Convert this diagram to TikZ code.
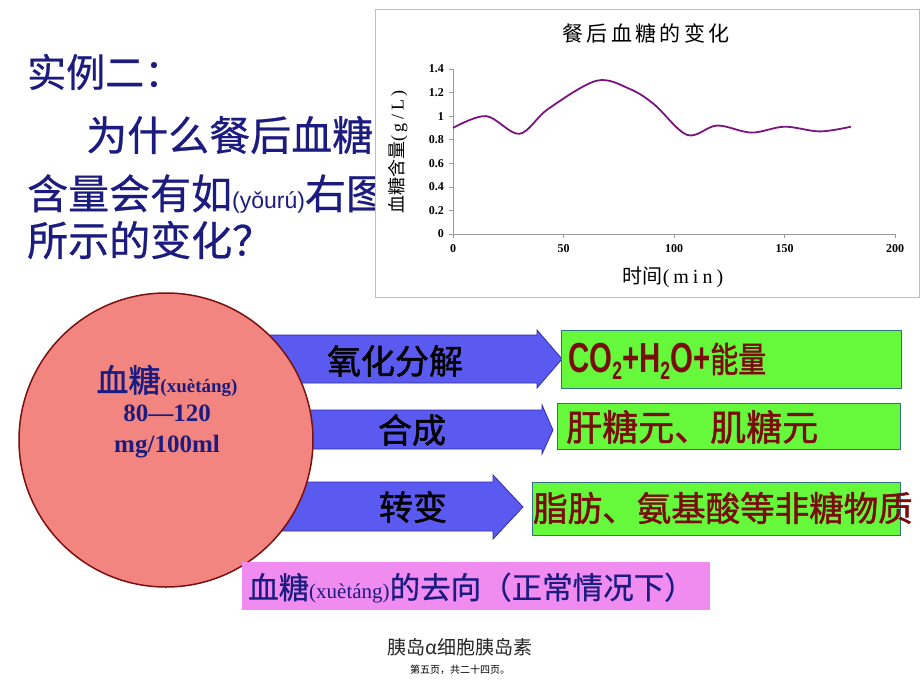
\documentclass[tikz,border=0pt]{standalone}
\usepackage{fontspec}
\setmainfont{Liberation Serif}
\newfontfamily\cjk{Noto Sans CJK SC}
\newfontfamily\cjkm[FakeBold=0.6]{Noto Sans CJK SC}
\newfontfamily\cjkb[FakeBold=1.4]{Noto Sans CJK SC}
\newfontfamily\cjkn[FakeStretch=0.8,FakeBold=1.4]{Noto Sans CJK SC}
\newfontfamily\cjkspaced[LetterSpace=16]{Noto Sans CJK SC}
\newfontfamily\tnr{Liberation Serif}
\newfontfamily\tnrspaced[LetterSpace=20]{Liberation Serif}
\newfontfamily\arial{Liberation Sans}
\newfontfamily\narrowf[FakeStretch=0.7]{Liberation Sans}
\newcommand\setfs[1]{\fontsize{#1}{#1}\selectfont}
\definecolor{titlenavy}{HTML}{1C1C80}
\definecolor{arrowblue}{HTML}{5A5AF0}
\definecolor{arrowline}{HTML}{2E2EA8}
\definecolor{circfill}{HTML}{F2857F}
\definecolor{circline}{HTML}{7A1010}
\definecolor{boxgreen}{HTML}{66F83A}
\definecolor{boxline}{HTML}{35708A}
\definecolor{labelpink}{HTML}{F08CF0}
\definecolor{darkredtext}{HTML}{7A0C0C}
\definecolor{chartgray}{HTML}{BEBEBE}
\definecolor{axisgray}{HTML}{9A9A9A}
\definecolor{curvepurple}{HTML}{7A1480}
\begin{document}
\begin{tikzpicture}[x=1pt,y=-1pt,
  titletext/.style={anchor=west,inner sep=0pt,text=titlenavy,font=\cjkm\setfs{41}},
  arrowshape/.style={fill=arrowblue,draw=arrowline,line width=0.8pt},
  arrowtext/.style={inner sep=0pt,text=black,font=\cjkb\setfs{34}},
  greenbox/.style={anchor=north west,fill=boxgreen,draw=boxline,line width=1pt,inner sep=0pt},
  greentext/.style={anchor=west,inner sep=0pt,text=darkredtext},
  ticklabel/.style={inner sep=0pt,font=\tnr\bfseries\setfs{12},text=black},
  circtext/.style={anchor=base,inner sep=0pt,text=titlenavy}]
\useasboundingbox[fill=white] (0,0) rectangle (920,690);

% question text
\node[titletext,font=\cjkm\setfs{39}] (q1) at (27,72) {实例二：};
\node[titletext] (q2) at (86,135) {为什么餐后血糖};
\node[titletext] (q3) at (27,194) {含量会有如{\arial\setfs{23}(yǒurú)}右图};
\node[titletext] (q4) at (27,240) {所示的变化？};

% chart panel
\draw[draw=chartgray,fill=white,line width=1pt] (375,10) rectangle (919,297);
\node[inner sep=0pt,font=\cjkspaced\setfs{21}] (ctitle) at (646,33) {餐后血糖的变化};
\begin{scope}[shift={(453,234)},x=2.21pt,y=117.9pt]
  \draw[axisgray,line width=0.7pt] (0,1.4) -- (0,0) -- (200,0);
  \foreach \v/\lab in {0/0,0.2/0.2,0.4/0.4,0.6/0.6,0.8/0.8,1/1,1.2/1.2,1.4/1.4} {
    \draw[axisgray,line width=0.6pt] (0,\v) -- ++(-4pt,0);
    \node[ticklabel,anchor=east] (yl\lab) at ([xshift=-9pt]0,\v) {\lab};
  }
  \foreach \t in {0,50,100,150,200} {
    \draw[axisgray,line width=0.6pt] (\t,0) -- ++(0,-4pt);
    \node[ticklabel] (xl\t) at ([yshift=-15pt]\t,0) {\t};
  }
  \draw[curvepurple,line width=1.8pt] plot[smooth,tension=0.55] coordinates {
    (0,0.90) (15,1.00) (30,0.85) (43,1.06) (65,1.30) (80,1.23) (91,1.10)
    (106,0.84) (119.5,0.92) (135,0.86) (150,0.91) (166,0.87) (180,0.91)};
\end{scope}
\node[inner sep=0pt] (xtitle) at (673,277) {{\cjk\setfs{20}时间}{\tnrspaced\setfs{20}(min)}};
\node[inner sep=0pt,rotate=90] (ytitle) at (398,152) {{\cjk\setfs{18}血糖含量}{\tnrspaced\setfs{18}(g/L)}};

% arrows
\draw[arrowshape] (265,335) -- (537,335) -- (537,330) -- (562,359) -- (537,388) -- (537,383) -- (265,383) -- cycle;
\draw[arrowshape] (290,410) -- (542,410) -- (542,405) -- (553,430) -- (542,454) -- (542,449) -- (290,449) -- cycle;
\draw[arrowshape] (270,482) -- (493,482) -- (493,475) -- (523,507) -- (493,539) -- (493,531) -- (270,531) -- cycle;

% circle
\node[circle,minimum size=294pt,fill=circfill,draw=circline,line width=1.5pt,inner sep=0pt] (blood) at (166,440) {};
\node[circtext] (c1) at (167,392) {{\cjkb\setfs{32}血糖}{\tnr\bfseries\setfs{19}(xuètáng)}};
\node[circtext] (c2) at (167,421) {\tnr\bfseries\setfs{25}80—120};
\node[circtext] (c3) at (167,452) {\tnr\bfseries\setfs{25}mg/100ml};

% arrow labels
\node[arrowtext] (a1) at (395,361) {氧化分解};
\node[arrowtext] (a2) at (412,430) {合成};
\node[arrowtext] (a3) at (413,507) {转变};

% green boxes
\node[greenbox,minimum width=340pt,minimum height=58pt] (g1) at (561,330) {};
\node[greenbox,minimum width=343pt,minimum height=46pt] (g2) at (557,403) {};
\node[greenbox,minimum width=368pt,minimum height=53pt] (g3) at (532,482) {};
\node[greentext] (g1t) at (568,361) {{\narrowf\bfseries\setfs{42}CO\raisebox{-7pt}{\setfs{25}2}+H\raisebox{-7pt}{\setfs{25}2}O+}{\cjkn\setfs{35}能量}};
\node[greentext,font=\cjkb\setfs{36}] (g2t) at (566,427) {肝糖元、肌糖元};
\node[greentext,font=\cjkb\setfs{34.5}] (g3t) at (533,508) {脂肪、氨基酸等非糖物质};

% label box
\node[anchor=north west,fill=labelpink,inner sep=0pt,minimum width=468pt,minimum height=48pt] (lab) at (242,562) {};
\node[anchor=west,inner sep=0pt,text=titlenavy] (labt) at (248,588) {{\cjkm\setfs{30.5}血糖}{\tnr\setfs{21}(xuètáng)}{\cjkm\setfs{30.5}的去向（正常情况下）}};

% footer
\node[inner sep=0pt,text=black!85,font=\cjk\setfs{19}] (f1) at (460,647) {胰岛α细胞胰岛素};
\node[inner sep=0pt,text=black,font=\cjk\setfs{10}] (f2) at (460,670) {第五页，共二十四页。};
\end{tikzpicture}
\end{document}
